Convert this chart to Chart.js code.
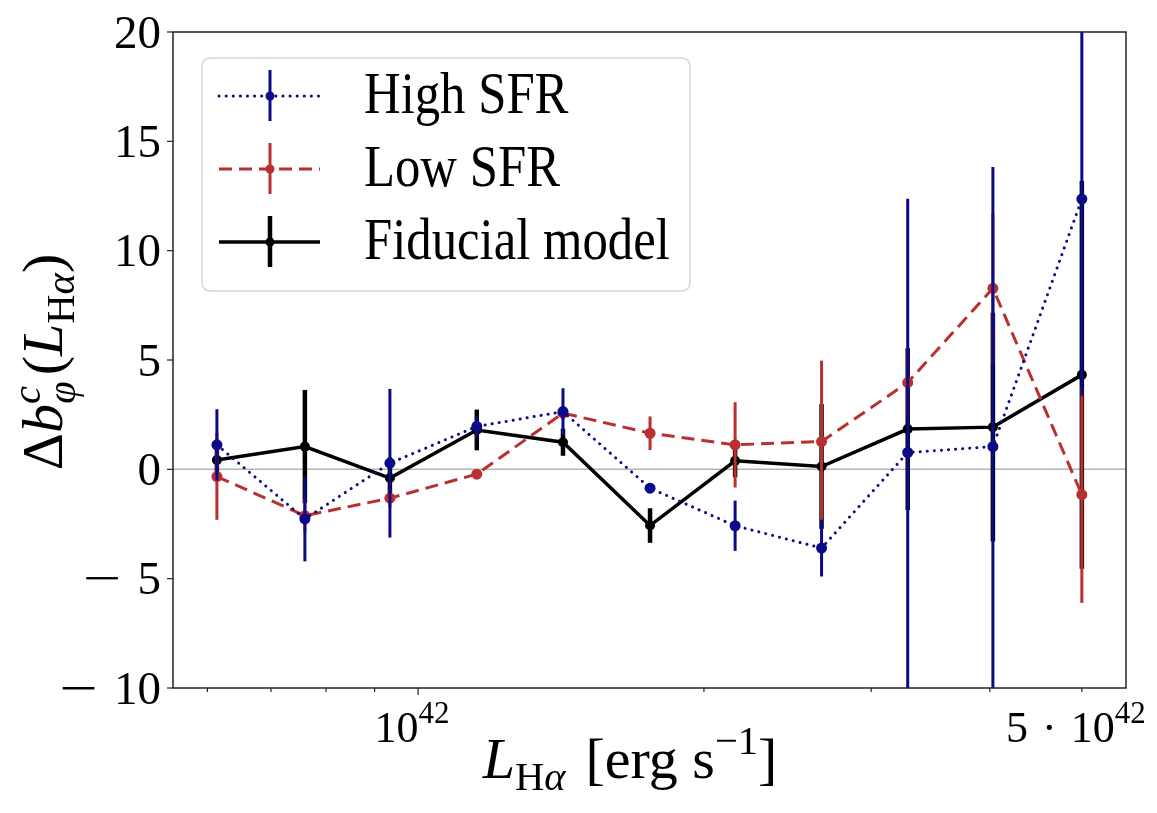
<!DOCTYPE html>
<html><head><meta charset="utf-8">
<script src="https://cdn.jsdelivr.net/npm/chart.js@4.4.0/dist/chart.umd.min.js"></script>
<style>html,body{margin:0;padding:0;background:#fff}#wrap{width:1157px;height:813px}</style>
</head><body><div id="wrap"><canvas id="c" width="1157" height="813"></canvas></div>
<script>
// ---- data ----
const luminosity   = [6.14e41, 7.60e41, 9.34e41, 1.153e42, 1.421e42, 1.755e42, 2.157e42, 2.66e42, 3.278e42, 4.03e42, 5.0e42];
const highSFR      = [1.12, -2.27, 0.28, 1.96, 2.64, -0.86, -2.58, -3.60, 0.77, 1.04, 12.36];
const highSFRErr   = [1.63, 1.94, 3.40, 0.50, 1.07, 0.12, 1.15, 1.30, 11.6, 12.79, 9.0];
const lowSFR       = [-0.33, -2.12, -1.32, -0.22, 2.57, 1.65, 1.12, 1.27, 3.97, 8.28, -1.16];
const lowSFRErr    = [1.98, 0.78, 0.42, 0.15, 0.30, 0.77, 1.95, 3.70, 1.50, 3.42, 4.95];
const fiducial     = [0.43, 1.04, -0.40, 1.80, 1.24, -2.57, 0.39, 0.13, 1.84, 1.93, 4.32];
const fiducialErr  = [0.60, 2.59, 0.95, 0.93, 0.62, 0.79, 0.75, 2.85, 3.70, 5.23, 8.87];
const seriesNames  = ['High SFR', 'Low SFR', 'Fiducial model'];
const xMinorTicks  = [6e41, 7e41, 8e41, 9e41, 2e42, 3e42, 4e42, 5e42];
const xMajorTicks  = [1e42];
const xLabelTicks  = [1e42, 5e42];
const xLabelMants  = ['', '5'];
const xLabelExps   = ['42', '42'];
const yTicks       = [-10, -5, 0, 5, 10, 15, 20];

const SERIF = '"Liberation Serif", "DejaVu Serif", serif';

function pts(xs, ys){ return xs.map((x,i)=>({x:x, y:ys[i]})); }

function drawRich(ctx, segs, x, y, align, sq){
  sq = sq || 1;
  let w = 0;
  segs.forEach(s=>{ ctx.font = (s.style||'') + ' ' + s.size + 'px ' + SERIF; s.w = ctx.measureText(s.t).width*sq*(s.sx||1) + (s.gap||0); w += s.w; });
  let cx = align === 'center' ? x - w/2 : (align === 'right' ? x - w : x);
  segs.forEach(s=>{
    ctx.font = (s.style||'') + ' ' + s.size + 'px ' + SERIF;
    ctx.save(); ctx.translate(cx, y + (s.dy||0)); ctx.scale(sq*(s.sx||1),1); ctx.fillText(s.t, 0, 0); ctx.restore();
    cx += s.w;
  });
}

const errorBarPlugin = {
  id: 'errorBars',
  beforeDatasetsDraw(chart){
    const {ctx, chartArea:a, scales:{y}} = chart;
    ctx.save();
    ctx.strokeStyle = '#b4b4b4'; ctx.lineWidth = 1.5;
    const py = y.getPixelForValue(0);
    ctx.beginPath(); ctx.moveTo(a.left, py); ctx.lineTo(a.right, py); ctx.stroke();
    ctx.restore();
  },
  beforeDatasetDraw(chart, args){
    const ds = chart.data.datasets[args.index];
    const {ctx, chartArea:a, scales:{x, y}} = chart;
    ctx.save();
    ctx.beginPath(); ctx.rect(a.left, a.top, a.right-a.left, a.bottom-a.top); ctx.clip();
    ctx.strokeStyle = ds.borderColor; ctx.lineWidth = ds.errWidth; ctx.lineCap = 'butt';
    ds.data.forEach((p,i)=>{
      const e = ds.errors[i];
      const px = x.getPixelForValue(p.x);
      ctx.beginPath();
      ctx.moveTo(px, y.getPixelForValue(p.y - e));
      ctx.lineTo(px, y.getPixelForValue(p.y + e));
      ctx.stroke();
    });
    ctx.restore();
  },
  afterDraw(chart){
    const {ctx, chartArea:a, scales:{x, y}} = chart;
    ctx.save();
    // frame
    ctx.strokeStyle = '#222'; ctx.lineWidth = 1.5;
    ctx.strokeRect(a.left, a.top, a.right-a.left, a.bottom-a.top);
    // ticks
    ctx.lineWidth = 1.2;
    yTicks.forEach(v=>{ const py=y.getPixelForValue(v); ctx.beginPath(); ctx.moveTo(a.left, py); ctx.lineTo(a.left-6, py); ctx.stroke(); });
    xMinorTicks.forEach(v=>{ const px=x.getPixelForValue(v); ctx.beginPath(); ctx.moveTo(px, a.bottom); ctx.lineTo(px, a.bottom+4); ctx.stroke(); });
    xMajorTicks.forEach(v=>{ const px=x.getPixelForValue(v); ctx.beginPath(); ctx.moveTo(px, a.bottom); ctx.lineTo(px, a.bottom+7); ctx.stroke(); });
    // tick labels
    ctx.fillStyle = '#000'; ctx.textBaseline = 'alphabetic';
    const TS = 47;
    yTicks.forEach(v=>{
      const py=y.getPixelForValue(v);
      const segs = [];
      if (v < 0) segs.push({t:'\u2212', size:TS, sx:1.45, gap:16});
      segs.push({t:String(Math.abs(v)), size:TS});
      drawRich(ctx, segs, a.left-12, py+TS*0.33, 'right');
    });
    xLabelTicks.forEach((v,i)=>{
      const px=x.getPixelForValue(v);
      const segs = [];
      if (xLabelMants[i]) { segs.push({t:xLabelMants[i], size:44, gap:14}); segs.push({t:'\u00b7', size:44, gap:14}); }
      segs.push({t:'10', size:44}); segs.push({t:xLabelExps[i], size:31, dy:-19});
      drawRich(ctx, segs, px-6, a.bottom+54, 'center');
    });
    // axis titles
    const AS = 58;
    drawRich(ctx, [
      {t:'L', size:AS, style:'italic'}, {t:'H', size:AS*0.7, dy:AS*0.2}, {t:'\u03b1', size:AS*0.7, style:'italic', dy:AS*0.2, gap:20},
      {t:'[erg s', size:AS}, {t:'\u22121', size:AS*0.7, dy:-AS*0.42}, {t:']', size:AS}
    ], 630, 778, 'center');
    ctx.save();
    ctx.translate(62, 362); ctx.rotate(-Math.PI/2);
    drawRich(ctx, [
      {t:'\u0394', size:AS}, {t:'b', size:AS, style:'italic'}, {t:'c', size:AS*0.7, style:'italic', dy:-AS*0.38, gap:-AS*0.7*0.44},
      {t:'\u03c6', size:AS*0.7, style:'italic', dy:AS*0.22, gap:6}, {t:'(', size:AS}, {t:'L', size:AS, style:'italic'},
      {t:'H', size:AS*0.7, dy:AS*0.2}, {t:'\u03b1', size:AS*0.7, style:'italic', dy:AS*0.2}, {t:')', size:AS}
    ], 0, 0, 'center');
    ctx.restore();
    // legend
    const lx=202, ly=58, lw=488, lh=233, r=9;
    ctx.beginPath();
    ctx.moveTo(lx+r, ly); ctx.lineTo(lx+lw-r, ly); ctx.quadraticCurveTo(lx+lw, ly, lx+lw, ly+r);
    ctx.lineTo(lx+lw, ly+lh-r); ctx.quadraticCurveTo(lx+lw, ly+lh, lx+lw-r, ly+lh);
    ctx.lineTo(lx+r, ly+lh); ctx.quadraticCurveTo(lx, ly+lh, lx, ly+lh-r);
    ctx.lineTo(lx, ly+r); ctx.quadraticCurveTo(lx, ly, lx+r, ly); ctx.closePath();
    ctx.fillStyle = 'rgba(255,255,255,0.8)'; ctx.fill();
    ctx.strokeStyle = '#d6d6d6'; ctx.lineWidth = 1.5; ctx.stroke();
    chart.data.datasets.forEach((ds,i)=>{
      const yc = 96 + i*73;
      ctx.save();
      ctx.strokeStyle = ds.borderColor; ctx.lineWidth = ds.borderWidth; ctx.setLineDash(ds.borderDash||[]); ctx.lineCap = ds.borderCapStyle||'butt';
      ctx.beginPath(); ctx.moveTo(219, yc); ctx.lineTo(320, yc); ctx.stroke();
      ctx.setLineDash([]); ctx.lineCap='butt'; ctx.lineWidth = ds.errWidth;
      ctx.beginPath(); ctx.moveTo(270, yc-26); ctx.lineTo(270, yc+25); ctx.stroke();
      ctx.fillStyle = ds.borderColor; ctx.beginPath(); ctx.arc(270, yc, 4.5, 0, Math.PI*2); ctx.fill();
      ctx.restore();
      ctx.fillStyle = '#000';
      drawRich(ctx, [{t:ds.label, size:59}], 364, yc+17, 'left', 0.86);
    });
    ctx.restore();
  }
};

const BLUE = '#0b0b8a', RED = '#b83030', BLACK = '#000000';
new Chart(document.getElementById('c'), {
  type: 'line',
  data: { datasets: [
    { label: seriesNames[0], data: pts(luminosity, highSFR), errors: highSFRErr, errWidth: 3,
      borderColor: BLUE, backgroundColor: BLUE, borderWidth: 3, borderDash: [0.1, 7], borderCapStyle: 'round',
      pointRadius: 5.5, pointBackgroundColor: BLUE, pointBorderWidth: 0 },
    { label: seriesNames[1], data: pts(luminosity, lowSFR), errors: lowSFRErr, errWidth: 3,
      borderColor: RED, backgroundColor: RED, borderWidth: 3, borderDash: [13, 7],
      pointRadius: 5.5, pointBackgroundColor: RED, pointBorderWidth: 0 },
    { label: seriesNames[2], data: pts(luminosity, fiducial), errors: fiducialErr, errWidth: 4.5,
      borderColor: BLACK, backgroundColor: BLACK, borderWidth: 3.5,
      pointRadius: 5, pointBackgroundColor: BLACK, pointBorderWidth: 0 }
  ]},
  options: {
    responsive: false, animation: false, devicePixelRatio: 1,
    layout: { padding: { top: 32, right: 31, left: 0, bottom: 0 } },
    plugins: { legend: { display: false }, tooltip: { enabled: false } },
    elements: { line: { tension: 0 } },
    scales: {
      x: { type: 'logarithmic', bounds: 'data', min: 5.52e41, max: 5.565e42,
           grid: { display: false }, border: { display: false }, ticks: { display: false },
           afterFit: s => { s.height = 125; } },
      y: { type: 'linear', min: -10, max: 20,
           grid: { display: false }, border: { display: false }, ticks: { display: false },
           afterFit: s => { s.width = 173; } }
    }
  },
  plugins: [errorBarPlugin]
});
</script></body></html>
